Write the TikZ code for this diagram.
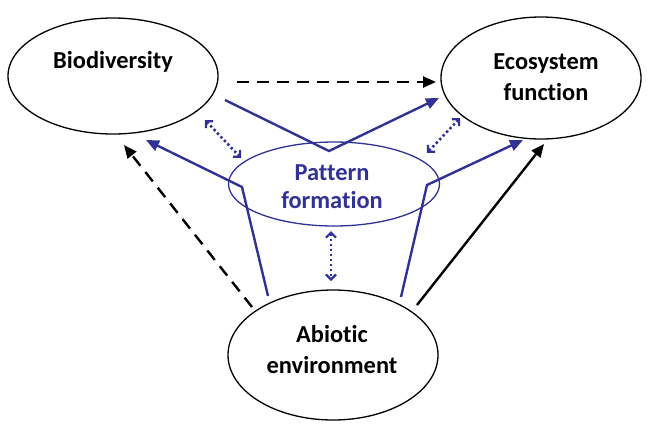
\documentclass[tikz,border=0pt]{standalone}
\usepackage{fontspec}
\setmainfont{Carlito}[Ligatures=CommonOff]
\usetikzlibrary{shapes.geometric,arrows.meta}
\definecolor{pblue}{RGB}{48,50,150}
\begin{document}
\begin{tikzpicture}[x=1bp,y=-1bp,
  ell/.style={ellipse,draw,line width=1.3bp,inner sep=0pt},
  lbl/.style={align=center,inner sep=0pt,font=\fontsize{24.5}{31}\selectfont\bfseries},
  plbl/.style={align=center,inner sep=0pt,text=pblue,font=\fontsize{24.5}{28}\selectfont\bfseries},
  blk/.style={line width=2.4bp,-{Triangle[length=13bp,width=11bp]}},
  blu/.style={draw=pblue,line width=2.4bp,line join=miter,-{Triangle[length=13bp,width=11bp]}},
  dots/.style={draw=pblue,line width=2.6bp,dash pattern=on 2.4bp off 2.6bp,{Straight Barb[length=5bp,width=10bp,line width=2.2bp]}-{Straight Barb[length=5bp,width=10bp,line width=2.2bp]}}]
\useasboundingbox (0,0) rectangle (652,427);
\node[ell,minimum width=210bp,minimum height=116bp] (bio) at (113,76) {};
\node[ell,minimum width=200bp,minimum height=122bp] (eco) at (541,78) {};
\node[ell,draw=pblue,minimum width=211bp,minimum height=84bp] (pat) at (334,184) {};
\node[ell,minimum width=210bp,minimum height=130bp] (abi) at (333,355) {};
\node[lbl,anchor=base] (biot) at (113,68) {Biodiversity};
\node[lbl,anchor=base] (ecot) at (546,100) {Ecosystem\\function};
\node[plbl,anchor=base] (patt) at (332,208) {Pattern\\formation};
\node[lbl,anchor=base] (abit) at (332,373) {Abiotic\\environment};
% coordinates
\coordinate (b1) at (237,82);
\coordinate (e1) at (436,82);
\coordinate (b2) at (225,100);
\coordinate (v) at (329,151);
\coordinate (e2) at (439,98);
\coordinate (a1) at (268,296);
\coordinate (k1) at (242,187);
\coordinate (b3) at (146,140);
\coordinate (a2) at (401,297);
\coordinate (k2) at (427,185);
\coordinate (e3) at (523,140);
\coordinate (a3) at (252,307);
\coordinate (b4) at (124,145);
\coordinate (a4) at (417,305);
\coordinate (e4) at (544,144);
\coordinate (d1) at (205,120);
\coordinate (d2) at (241,158);
\coordinate (d3) at (460,118);
\coordinate (d4) at (427,153);
\coordinate (d5) at (331,231);
\coordinate (d6) at (331,281);
% black connectors
\draw[blk,dash pattern=on 12bp off 8bp] (b1) -- (e1);
\draw[blk,dash pattern=on 12bp off 8bp] (a3) -- (b4);
\draw[blk] (a4) -- (e4);
% blue connectors
\draw[blu] (b2) -- (v) -- (e2);
\draw[blu] (a1) -- (k1) -- (b3);
\draw[blu] (a2) -- (k2) -- (e3);
% dotted double arrows
\draw[dots] (d1) -- (d2);
\draw[dots] (d3) -- (d4);
\draw[dots] (d5) -- (d6);
\end{tikzpicture}
\end{document}
